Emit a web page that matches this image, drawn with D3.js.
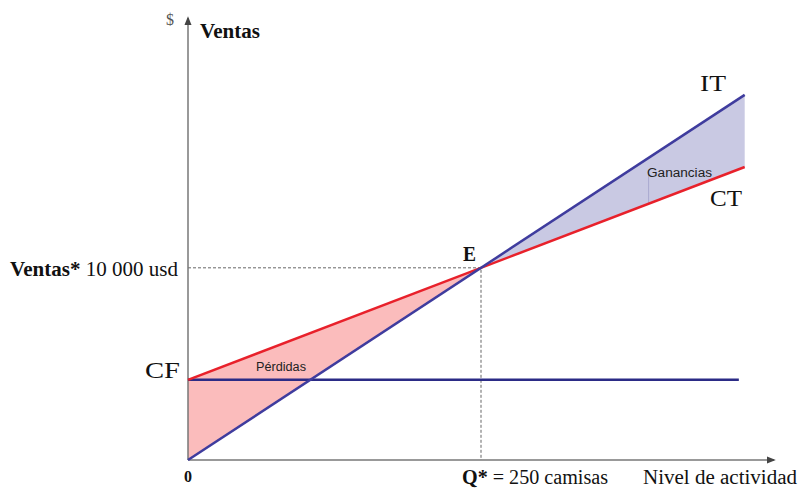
<!DOCTYPE html>
<html>
<head>
<meta charset="utf-8">
<script src="https://cdn.jsdelivr.net/npm/d3@7"></script>
<style>
  body { margin: 0; background: #fff; }
  svg { display: block; }
</style>
</head>
<body>
<div id="chart"></div>
<script>
// Break-even values
var costoFijo = 4170;          // CF
var qEquilibrio = 250;         // Q* camisas
var ventasEquilibrio = 10000;  // Ventas* usd
var qFin = 475;                // end of IT / CT lines
var qFinCF = 470;              // end of CF line
var xDominio = [0, 500];
var yDominio = [0, 23000];

var precio = ventasEquilibrio / qEquilibrio;
var costoVar = (ventasEquilibrio - costoFijo) / qEquilibrio;

var ingresoTotal = [0, qFin].map(q => ({ q: q, v: precio * q }));
var costoTotal = [0, qFin].map(q => ({ q: q, v: costoFijo + costoVar * q }));
var costoFijoLinea = [0, qFinCF].map(q => ({ q: q, v: costoFijo }));

var width = 798, height = 488;
var svg = d3.select("#chart").append("svg")
    .attr("width", width)
    .attr("height", height);

var x = d3.scaleLinear().domain(xDominio).range([188, 774]);
var y = d3.scaleLinear().domain(yDominio).range([460, 18]);

var line = d3.line().x(d => x(d.q)).y(d => y(d.v));
var area = d3.area()
    .x(d => x(d.q))
    .y0(d => y(d.lo))
    .y1(d => y(d.hi));

// Loss and profit regions
var perdidas = [0, qEquilibrio].map(q => ({ q: q, lo: precio * q, hi: costoFijo + costoVar * q }));
var ganancias = [qEquilibrio, qFin].map(q => ({ q: q, lo: costoFijo + costoVar * q, hi: precio * q }));

svg.append("path").attr("d", area(perdidas)).attr("fill", "#fbbcbc");
svg.append("path").attr("d", area(ganancias)).attr("fill", "#c9c9e3");

// thin marker line under Ganancias
var qMarca = 393;
svg.append("line")
    .attr("x1", x(qMarca)).attr("x2", x(qMarca))
    .attr("y1", y(precio * qMarca) + 12).attr("y2", y(costoFijo + costoVar * qMarca))
    .attr("stroke", "#a9a9cf").attr("stroke-width", 1);

// Guides to E
svg.append("path")
    .attr("d", "M" + x(0) + "," + y(ventasEquilibrio) + "H" + x(qEquilibrio) + "V" + y(0))
    .attr("fill", "none")
    .attr("stroke", "#666")
    .attr("stroke-width", 1)
    .attr("stroke-dasharray", "3,2");

// Axes with arrows
svg.append("defs").append("marker")
    .attr("id", "flecha")
    .attr("viewBox", "0 0 10 10")
    .attr("refX", 8).attr("refY", 5)
    .attr("markerWidth", 6).attr("markerHeight", 6)
    .attr("orient", "auto")
    .append("path").attr("d", "M0,1L10,5L0,9Z").attr("fill", "#444");

svg.append("line")
    .attr("x1", x(0)).attr("y1", y(0))
    .attr("x2", x(xDominio[1])).attr("y2", y(0))
    .attr("stroke", "#777").attr("stroke-width", 1.5)
    .attr("marker-end", "url(#flecha)");
svg.append("line")
    .attr("x1", x(0)).attr("y1", y(0))
    .attr("x2", x(0)).attr("y2", y(yDominio[1]))
    .attr("stroke", "#777").attr("stroke-width", 1.5)
    .attr("marker-end", "url(#flecha)");

// Lines
svg.append("path").attr("d", line(costoFijoLinea))
    .attr("fill", "none").attr("stroke", "#2b2b86").attr("stroke-width", 2.5);
svg.append("path").attr("d", line(costoTotal))
    .attr("fill", "none").attr("stroke", "#e8212b").attr("stroke-width", 2.5);
svg.append("path").attr("d", line(ingresoTotal))
    .attr("fill", "none").attr("stroke", "#3f3c9e").attr("stroke-width", 2.5);

// Text
var serif = "'Liberation Serif', 'Times New Roman', serif";
var sans = "'Liberation Sans', Arial, sans-serif";

function texto(px, py, partes, opts) {
    var t = svg.append("text")
        .attr("x", px).attr("y", py)
        .attr("font-family", opts.family || serif)
        .attr("font-size", opts.size || 17)
        .attr("text-anchor", opts.anchor || "start")
        .attr("fill", opts.fill || "#111");
    if (opts.len) t.attr("textLength", opts.len).attr("lengthAdjust", "spacingAndGlyphs");
    partes.forEach(function(p) {
        t.append("tspan").attr("font-weight", p.bold ? "bold" : "normal").text(p.t);
    });
    return t;
}

texto(166, 25, [{ t: "$" }], { size: 16, fill: "#555" });
texto(200, 38, [{ t: "Ventas", bold: true }], { size: 20, len: 60 });
texto(10, 276, [{ t: "Ventas*", bold: true }, { t: " 10 000 usd" }], { size: 20, len: 168 });
texto(145, 378, [{ t: "CF" }], { size: 23, len: 35 });
texto(184, 482, [{ t: "0", bold: true }], { size: 16 });
texto(462, 484, [{ t: "Q*", bold: true }, { t: " = 250 camisas" }], { size: 20, len: 146 });
texto(643, 484, [{ t: "Nivel de actividad" }], { size: 20, len: 154 });
texto(463, 261, [{ t: "E", bold: true }], { size: 20, len: 13 });
texto(700, 91, [{ t: "IT" }], { size: 23, len: 26 });
texto(710, 206, [{ t: "CT" }], { size: 23, len: 32 });
texto(647, 177, [{ t: "Ganancias" }], { size: 12.5, family: sans, fill: "#222", len: 65 });
texto(256, 371, [{ t: "Pérdidas" }], { size: 12.5, family: sans, fill: "#222", len: 50 });
</script>
</body>
</html>
